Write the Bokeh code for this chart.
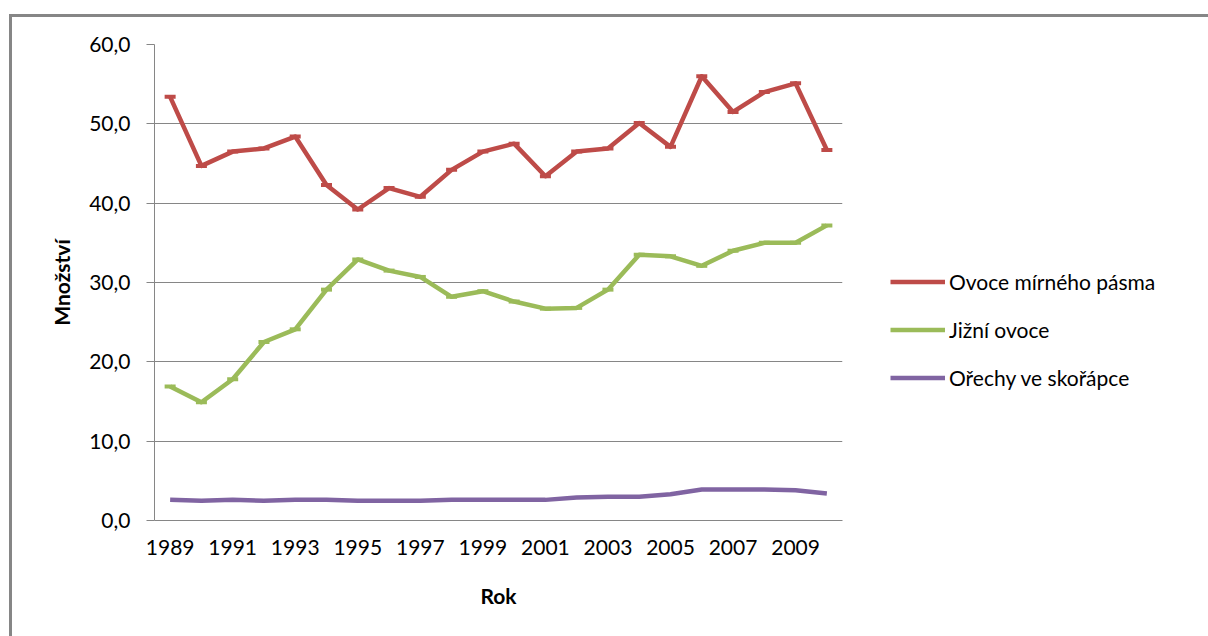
from bokeh.plotting import figure
from bokeh.models import Range1d, FixedTicker, Legend, LegendItem
from bokeh.embed import file_html
from bokeh.resources import INLINE

# Annual consumption per person, 1989-2010
years = [1989, 1990, 1991, 1992, 1993, 1994, 1995, 1996, 1997, 1998, 1999,
         2000, 2001, 2002, 2003, 2004, 2005, 2006, 2007, 2008, 2009, 2010]
ovoce_mirneho_pasma = [53.4, 44.7, 46.5, 46.9, 48.4, 42.3, 39.2, 41.9, 40.8, 44.2, 46.5,
                       47.5, 43.4, 46.5, 46.9, 50.1, 47.1, 56.0, 51.5, 54.0, 55.1, 46.7]
jizni_ovoce = [16.9, 14.9, 17.8, 22.5, 24.1, 29.1, 32.9, 31.5, 30.7, 28.2, 28.9,
               27.6, 26.7, 26.8, 29.1, 33.5, 33.3, 32.1, 34.0, 35.0, 35.0, 37.2]
orechy_ve_skorapce = [2.6, 2.5, 2.6, 2.5, 2.6, 2.6, 2.5, 2.5, 2.5, 2.6, 2.6,
                      2.6, 2.6, 2.9, 3.0, 3.0, 3.3, 3.9, 3.9, 3.9, 3.8, 3.4]

series_names = ["Ovoce mírného pásma", "Jižní ovoce", "Ořechy ve skořápce"]
series_colors = ["#BE4B48", "#9BBB59", "#8064A2"]

x_ticks = years[::2]
y_ticks = [0, 10, 20, 30, 40, 50, 60]
y_tick_labels = ["0,0", "10,0", "20,0", "30,0", "40,0", "50,0", "60,0"]

FONT = "Lato"
GREY = "#868686"

p = figure(frame_width=688, frame_height=476,
           output_backend="svg", toolbar_location=None,
           x_range=Range1d(years[0] - 0.5, years[-1] + 0.5),
           y_range=Range1d(0, 60),
           min_border_left=142, min_border_right=0,
           min_border_top=27, min_border_bottom=116)

# chart border (left and top edges of the chart box)
p.margin = (14, 0, 0, 9)
p.styles = {"border-left": f"3px solid {GREY}", "border-top": f"3px solid {GREY}"}

p.outline_line_color = None
p.background_fill_color = "white"
p.border_fill_color = "white"

p.xgrid.grid_line_color = None
p.ygrid.grid_line_color = GREY
p.ygrid.grid_line_width = 1

# axes
p.xaxis.ticker = FixedTicker(ticks=x_ticks)
p.xaxis.major_label_overrides = {y: str(y) for y in x_ticks}
p.xaxis.major_tick_out = 0
p.xaxis.major_tick_in = 0
p.xaxis.minor_tick_line_color = None
p.xaxis.axis_line_color = GREY
p.xaxis.major_label_standoff = 19
p.xaxis.axis_label = "Rok"
p.xaxis.axis_label_standoff = 25

p.yaxis.ticker = FixedTicker(ticks=y_ticks)
p.yaxis.major_label_overrides = dict(zip(y_ticks, y_tick_labels))
p.yaxis.major_tick_out = 8
p.yaxis.major_tick_in = 0
p.yaxis.major_tick_line_color = GREY
p.yaxis.minor_tick_line_color = None
p.yaxis.axis_line_color = GREY
p.yaxis.major_label_standoff = 16
p.yaxis.axis_label = "Množství"
p.yaxis.axis_label_standoff = 12

for ax in (p.xaxis, p.yaxis):
    ax.major_label_text_font = FONT
    ax.major_label_text_font_size = "21px"
    ax.major_label_text_color = "#000000"
    ax.axis_label_text_font = FONT
    ax.axis_label_text_font_size = "21px"
    ax.axis_label_text_font_style = "bold"
    ax.axis_label_text_color = "#000000"

# series
items = []
for name, vals, col, marked in zip(series_names,
                                   [ovoce_mirneho_pasma, jizni_ovoce, orechy_ve_skorapce],
                                   series_colors, [True, True, False]):
    r = p.line(years, vals, line_color=col, line_width=4.5, line_join="round")
    if marked:
        p.scatter(years, vals, marker="dash", size=11, line_color=col, line_width=4)
    items.append(LegendItem(label=name, renderers=[r]))

legend = Legend(items=items, location=(48, 130),
                padding=0, margin=0, spacing=23,
                glyph_width=55, glyph_height=25, label_height=25,
                label_standoff=4,
                label_text_font=FONT, label_text_font_size="21px",
                label_text_color="#000000",
                border_line_color=None, background_fill_alpha=0)
p.add_layout(legend, "right")

open("out.html", "w").write(file_html(p, INLINE))
